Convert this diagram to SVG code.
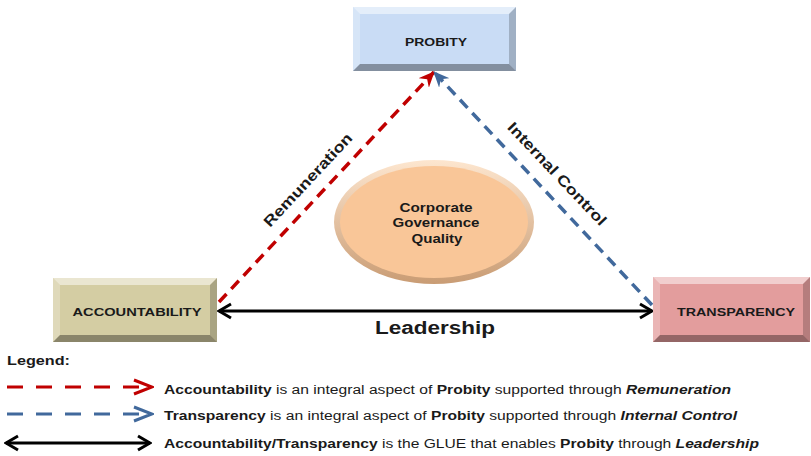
<svg xmlns="http://www.w3.org/2000/svg" width="811" height="456" viewBox="0 0 811 456">
<style>
.hl{fill:#ffffff;fill-opacity:.5}
.hl2{fill:#ffffff;fill-opacity:.25}
.sh{fill:#000000;fill-opacity:.2}
.sh2{fill:#000000;fill-opacity:.35}
.lbl{font-family:"Liberation Sans",Arial,sans-serif;font-weight:bold;fill:#1a1a1a}
.lg{font-family:"Liberation Sans",Arial,sans-serif;font-size:12px;fill:#1a1a1a}
.b{font-weight:bold}
.bi{font-weight:bold;font-style:italic}
.red{stroke:#c00000;fill:none}
.blue{stroke:#41699c;fill:none}
.blk{stroke:#000000;fill:none}
</style>
<defs>
<marker id="stRed" markerUnits="userSpaceOnUse" markerWidth="16" markerHeight="14" refX="15" refY="7" orient="auto">
<path d="M0,0 L16,7 L0,14 L5,7 Z" fill="#c00000"/>
</marker>
<marker id="stBlue" markerUnits="userSpaceOnUse" markerWidth="16" markerHeight="14" refX="15" refY="7" orient="auto">
<path d="M0,0 L16,7 L0,14 L5,7 Z" fill="#41699c"/>
</marker>
<marker id="chBlk" markerUnits="userSpaceOnUse" markerWidth="16" markerHeight="18" refX="14" refY="9" orient="auto-start-reverse">
<path d="M2,2 L14,9 L2,16" fill="none" stroke="#000" stroke-width="3"/>
</marker>
<marker id="chRed" markerUnits="userSpaceOnUse" markerWidth="22" markerHeight="18" refX="20" refY="9" orient="auto">
<path d="M2,2 L20,9 L2,16" fill="none" stroke="#c00000" stroke-width="3"/>
</marker>
<marker id="chBlue" markerUnits="userSpaceOnUse" markerWidth="22" markerHeight="18" refX="20" refY="9" orient="auto">
<path d="M2,2 L20,9 L2,16" fill="none" stroke="#41699c" stroke-width="3"/>
</marker>
<linearGradient id="ellG" x1="0" y1="0" x2="0" y2="1">
<stop offset="0" stop-color="#fde6cf"/>
<stop offset="1" stop-color="#c99c74"/>
</linearGradient>
</defs>

<g id="connectors">
<line class="red" x1="219" y1="302" x2="434" y2="72" stroke-width="3.5" stroke-dasharray="11 7" marker-end="url(#stRed)"/>
<line class="blue" x1="652" y1="305" x2="434" y2="72" stroke-width="3.5" stroke-dasharray="11 7" marker-end="url(#stBlue)"/>
<line class="blk" x1="219" y1="311" x2="652" y2="311" stroke-width="3" marker-start="url(#chBlk)" marker-end="url(#chBlk)"/>
<text class="lbl" font-size="15" transform="translate(308,180) rotate(-47)" x="0" y="5" text-anchor="middle" textLength="122" lengthAdjust="spacingAndGlyphs">Remuneration</text>
<text class="lbl" font-size="15" transform="translate(557,174) rotate(46.5)" x="0" y="5" text-anchor="middle" textLength="136" lengthAdjust="spacingAndGlyphs">Internal Control</text>
<text class="lbl" font-size="18" x="435" y="334" text-anchor="middle" textLength="120" lengthAdjust="spacingAndGlyphs">Leadership</text>
</g>

<g id="probity">
<rect x="353" y="7" width="163" height="64" fill="#c9dcf5"/>
<polygon class="hl" points="353,7 516,7 509,14 360,14"/>
<polygon class="hl2" points="353,7 360,14 360,64 353,71"/>
<polygon class="sh" points="516,7 516,71 509,64 509,14"/>
<polygon class="sh2" points="353,71 516,71 509,64 360,64"/>
<text class="lbl" font-size="11.5" x="436" y="46" text-anchor="middle" textLength="62" lengthAdjust="spacingAndGlyphs">PROBITY</text>
</g>

<g id="accountability">
<rect x="53" y="278" width="164" height="64" fill="#d4cda3"/>
<polygon class="hl" points="53,278 217,278 210,285 60,285"/>
<polygon class="hl2" points="53,278 60,285 60,335 53,342"/>
<polygon class="sh" points="217,278 217,342 210,335 210,285"/>
<polygon class="sh2" points="53,342 217,342 210,335 60,335"/>
<text class="lbl" font-size="11.5" x="137" y="316" text-anchor="middle" textLength="129" lengthAdjust="spacingAndGlyphs">ACCOUNTABILITY</text>
</g>

<g id="transparency">
<rect x="653" y="277" width="157" height="65" fill="#e39d9d"/>
<polygon class="hl" points="653,277 810,277 803,284 660,284"/>
<polygon class="hl2" points="653,277 660,284 660,335 653,342"/>
<polygon class="sh" points="810,277 810,342 803,335 803,284"/>
<polygon class="sh2" points="653,342 810,342 803,335 660,335"/>
<text class="lbl" font-size="11.5" x="736" y="316" text-anchor="middle" textLength="118" lengthAdjust="spacingAndGlyphs">TRANSPARENCY</text>
</g>

<g id="quality">
<ellipse cx="434" cy="222" rx="100" ry="62" fill="url(#ellG)"/>
<ellipse cx="434" cy="222" rx="94" ry="56" fill="#f9c698"/>
<text class="lbl" font-size="12" x="436" y="212" text-anchor="middle" textLength="73" lengthAdjust="spacingAndGlyphs">Corporate</text>
<text class="lbl" font-size="12" x="436" y="227" text-anchor="middle" textLength="87" lengthAdjust="spacingAndGlyphs">Governance</text>
<text class="lbl" font-size="12" x="437" y="243" text-anchor="middle" textLength="51" lengthAdjust="spacingAndGlyphs">Quality</text>
</g>

<g id="legend">
<text class="lg b" x="7" y="365" textLength="63" lengthAdjust="spacingAndGlyphs">Legend:</text>
<line class="red" x1="7" y1="387" x2="152" y2="387" stroke-width="3" stroke-dasharray="16 13" marker-end="url(#chRed)"/>
<line class="blue" x1="7" y1="414" x2="152" y2="414" stroke-width="3" stroke-dasharray="16 13" marker-end="url(#chBlue)"/>
<line class="blk" x1="6" y1="443" x2="150" y2="443" stroke-width="3" marker-start="url(#chBlk)" marker-end="url(#chBlk)"/>
<text class="lg" x="164" y="394" textLength="567" lengthAdjust="spacingAndGlyphs"><tspan class="b">Accountability</tspan> is an integral aspect of <tspan class="b">Probity</tspan> supported through <tspan class="bi">Remuneration</tspan></text>
<text class="lg" x="164" y="420" textLength="573" lengthAdjust="spacingAndGlyphs"><tspan class="b">Transparency</tspan> is an integral aspect of <tspan class="b">Probity</tspan> supported through <tspan class="bi">Internal Control</tspan></text>
<text class="lg" x="164" y="448" textLength="595" lengthAdjust="spacingAndGlyphs"><tspan class="b">Accountability/Transparency</tspan> is the GLUE that enables <tspan class="b">Probity</tspan> through <tspan class="bi">Leadership</tspan></text>
</g>
</svg>
